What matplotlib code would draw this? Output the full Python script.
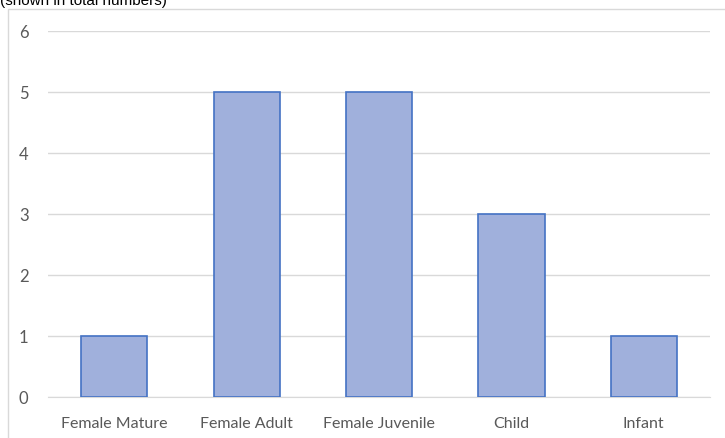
import numpy as np
import matplotlib
matplotlib.use('Agg')
import matplotlib.pyplot as plt
from matplotlib.patches import Rectangle

categories = ["Female Mature", "Female Adult", "Female Juvenile", "Child", "Infant"]
counts = [1, 5, 5, 3, 1]
y_ticks = [0, 1, 2, 3, 4, 5, 6]

W, H = 725, 439
fig = plt.figure(figsize=(W / 100, H / 100), dpi=100)

# chart frame (cut off at right and bottom)
fig.patches.append(Rectangle((8 / W, -0.1), 1.2, 1 - 10 / H + 0.1, transform=fig.transFigure,
                             fill=False, edgecolor='#D9D9D9', linewidth=1))

# title, mostly cropped at the top
fig.text(0.0, 1 - 5 / H, "(shown in total numbers)", fontsize=11, family='Liberation Sans',
         color='black', va='baseline', ha='left')

ax = fig.add_axes([48 / W, 1 - 398 / H, (710 - 48) / W, (398 - 32) / H])
x = np.arange(len(categories))
ax.bar(x, counts, width=0.5, color='#A0B0DC', edgecolor='#4472C4', linewidth=1.2, zorder=3)

ax.set_xlim(-0.5, len(categories) - 0.5)
ax.set_ylim(0, 6)
ax.set_yticks(y_ticks)
ax.set_xticks(x)
ax.set_xticklabels(categories)
ax.grid(axis='y', color='#D9D9D9', linewidth=1, zorder=0)
ax.tick_params(length=0, labelcolor='#595959', labelsize=11.5)
ax.tick_params(axis='y', pad=14, labelsize=12)
ax.tick_params(axis='x', pad=14)
for lbl in ax.get_xticklabels() + ax.get_yticklabels():
    lbl.set_family('Lato')
for s in ['top', 'right', 'left']:
    ax.spines[s].set_visible(False)
ax.spines['bottom'].set_color('#D9D9D9')

fig.savefig('out.png', dpi=100)
